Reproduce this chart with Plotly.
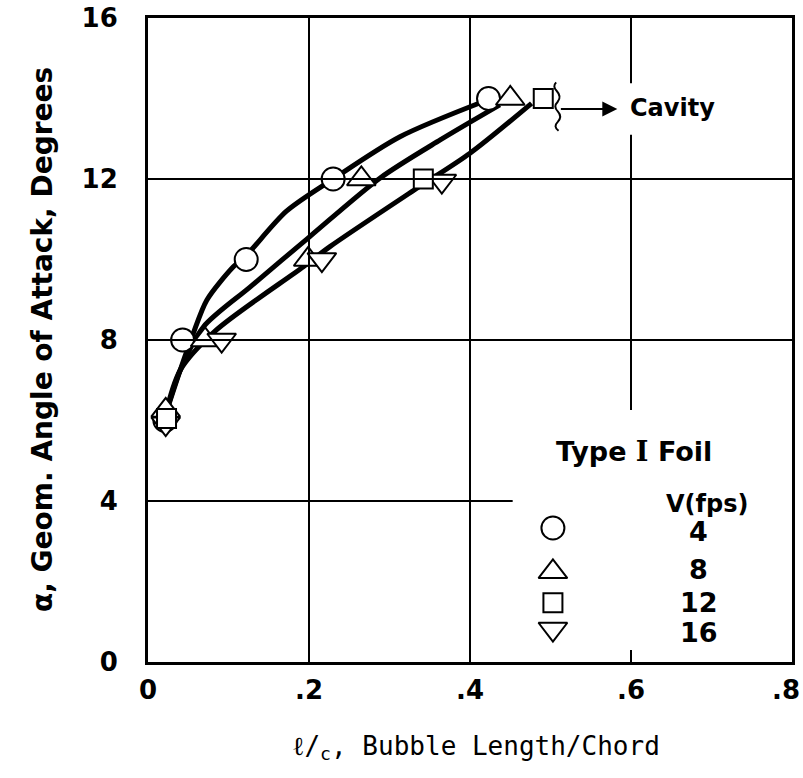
import plotly.graph_objects as go

# ---- data ----
# markers: V = 4, 8, 12, 16 fps
x_v4 = [0.021, 0.043, 0.122, 0.230, 0.423]
y_v4 = [6.0, 8.0, 10.0, 12.0, 14.0]
x_v8 = [0.022, 0.071, 0.199, 0.265, 0.450]
y_v8 = [6.25, 8.0, 10.0, 12.0, 14.0]
x_v12 = [0.023, 0.342, 0.491]
y_v12 = [6.05, 12.0, 14.0]
x_v16 = [0.022, 0.0915, 0.216, 0.365]
y_v16 = [5.92, 8.0, 10.0, 11.95]

# faired curves
curve_a_x = [0.021, 0.040, 0.056, 0.073, 0.106, 0.122, 0.172, 0.230, 0.313, 0.420]
curve_a_y = [6.10, 7.25, 8.15, 8.99, 9.82, 10.10, 11.20, 12.00, 13.05, 13.95]
curve_b_x = [0.021, 0.040, 0.069, 0.127, 0.201, 0.288, 0.363, 0.437]
curve_b_y = [6.10, 7.25, 8.33, 9.32, 10.57, 12.02, 12.97, 13.84]
curve_c_x = [0.021, 0.040, 0.085, 0.193, 0.226, 0.334, 0.400, 0.4765]
curve_c_y = [6.10, 7.25, 8.25, 9.82, 10.32, 11.77, 12.64, 13.88]

x_ticks = [0, 0.2, 0.4, 0.6, 0.8]
x_tick_labels = ["0", ".2", ".4", ".6", ".8"]
y_ticks = [0, 4, 8, 12, 16]
y_tick_labels = ["0", "4", "8", "12", "16"]

legend_speeds = ["4", "8", "12", "16"]
legend_symbols = ["circle", "triangle-up", "square", "triangle-down"]
legend_sym_y = [3.33, 2.24, 1.47, 0.82]
legend_num_y = [3.25, 2.29, 1.47, 0.745]

FONT = "DejaVu Sans"
MONO = "DejaVu Sans Mono"
BLACK = "#000000"

fig = go.Figure()

for cx, cy in [(curve_a_x, curve_a_y), (curve_b_x, curve_b_y), (curve_c_x, curve_c_y)]:
    fig.add_trace(go.Scatter(x=cx, y=cy, mode="lines",
                             line=dict(color=BLACK, width=5, shape="spline", smoothing=0.8),
                             hoverinfo="skip", showlegend=False))

sizes = {"circle": 23, "triangle-up": 25, "square": 19, "triangle-down": 25}

def add_markers(xs, ys, symbol):
    fig.add_trace(go.Scatter(x=xs, y=ys, mode="markers",
                             marker=dict(symbol=symbol, size=sizes[symbol], color="white",
                                         line=dict(color=BLACK, width=2)),
                             showlegend=False, cliponaxis=False))

add_markers(x_v4, y_v4, "circle")
add_markers(x_v8, y_v8, "triangle-up")
add_markers(x_v16, y_v16, "triangle-down")
add_markers(x_v12, y_v12, "square")

# legend symbols
leg_x = 0.503
for sym, ly in zip(legend_symbols, legend_sym_y):
    add_markers([leg_x], [ly], sym)

shapes = []
grid_w = 2
def vline(x, y0, y1):
    shapes.append(dict(type="line", xref="x", yref="y", x0=x, x1=x, y0=y0, y1=y1,
                       line=dict(color=BLACK, width=grid_w)))
def hline(y, x0, x1):
    shapes.append(dict(type="line", xref="x", yref="y", x0=x0, x1=x1, y0=y, y1=y,
                       line=dict(color=BLACK, width=grid_w)))

vline(x_ticks[1], 0, 16)
vline(x_ticks[2], 0, 16)
vline(x_ticks[3], 14.38, 16)
vline(x_ticks[3], 6.26, 13.1)
vline(x_ticks[3], 0, 0.3)
hline(y_ticks[3], 0, 0.8)
hline(y_ticks[2], 0, 0.8)
hline(y_ticks[1], 0, 0.453)
# squiggle before the arrow
shapes.append(dict(type="path", xref="x", yref="y",
                   path=("M 0.507,14.40 Q 0.502,14.30 0.508,14.18 "
                         "Q 0.514,14.05 0.509,13.92 Q 0.503,13.80 0.509,13.68 "
                         "Q 0.515,13.55 0.509,13.42 Q 0.503,13.30 0.510,13.20"),
                   line=dict(color=BLACK, width=2)))

annotations = []
# x tick labels (last one nudged left so it stays inside the page)
for i, (tv, tt) in enumerate(zip(x_ticks, x_tick_labels)):
    annotations.append(dict(x=tv, y=0, xref="x", yref="paper", yshift=-28,
                            xshift=(-6 if i == len(x_ticks) - 1 else 0),
                            text="<b>" + tt + "</b>", showarrow=False,
                            xanchor="center", yanchor="middle",
                            font=dict(family=FONT, size=26, color=BLACK)))
# Cavity arrow
annotations.append(dict(x=0.583, y=13.74, ax=0.511, ay=13.74, xref="x", yref="y",
                        axref="x", ayref="y", showarrow=True, arrowhead=2,
                        arrowsize=1.5, arrowwidth=2, arrowcolor=BLACK, text=""))
annotations.append(dict(x=0.596, y=13.76, xref="x", yref="y", text="<b>Cavity</b>",
                        showarrow=False, xanchor="left", yanchor="middle",
                        font=dict(family=FONT, size=24, color=BLACK)))
# legend text
annotations.append(dict(x=0.604, y=5.22, xref="x", yref="y",
                        text="<b>Type <span style='font-family:DejaVu Serif'>I</span> Foil</b>",
                        showarrow=False, xanchor="center", yanchor="middle",
                        font=dict(family=FONT, size=27, color=BLACK)))
annotations.append(dict(x=0.694, y=3.93, xref="x", yref="y", text="<b>V(fps)</b>",
                        showarrow=False, xanchor="center", yanchor="middle",
                        font=dict(family=FONT, size=24, color=BLACK)))
for sp, ly in zip(legend_speeds, legend_num_y):
    annotations.append(dict(x=0.684, y=ly, xref="x", yref="y", text="<b>" + sp + "</b>",
                            showarrow=False, xanchor="center", yanchor="middle",
                            font=dict(family=FONT, size=27, color=BLACK)))
# axis titles
annotations.append(dict(x=0, y=0.5, xref="paper", yref="paper", xshift=-106,
                        text="<b>α, Geom. Angle of Attack, Degrees</b>", textangle=-90,
                        showarrow=False, xanchor="center", yanchor="middle",
                        font=dict(family=FONT, size=28, color=BLACK)))
annotations.append(dict(x=0.509, y=0, xref="paper", yref="paper", yshift=-85,
                        text="ℓ/<sub>c</sub>, Bubble Length/Chord",
                        showarrow=False, xanchor="center", yanchor="middle",
                        font=dict(family=MONO, size=26, color=BLACK)))

axis_common = dict(showgrid=False, zeroline=False, showline=True, mirror=True,
                   linecolor=BLACK, linewidth=3, ticks="outside",
                   tickcolor="rgba(0,0,0,0)", automargin=False,
                   tickfont=dict(family=FONT, size=26, color=BLACK, weight="bold"),
                   fixedrange=True)

fig.update_layout(
    width=803, height=778,
    margin=dict(l=148, r=11, t=18, b=116),
    paper_bgcolor="white", plot_bgcolor="white",
    shapes=shapes, annotations=annotations,
    showlegend=False,
    xaxis=dict(range=[0, 0.8], tickvals=x_ticks, showticklabels=False, ticklen=4,
               **axis_common),
    yaxis=dict(range=[0, 16], tickvals=y_ticks, ticktext=y_tick_labels, ticklen=22,
               **axis_common),
)

fig.write_html("out.html")
